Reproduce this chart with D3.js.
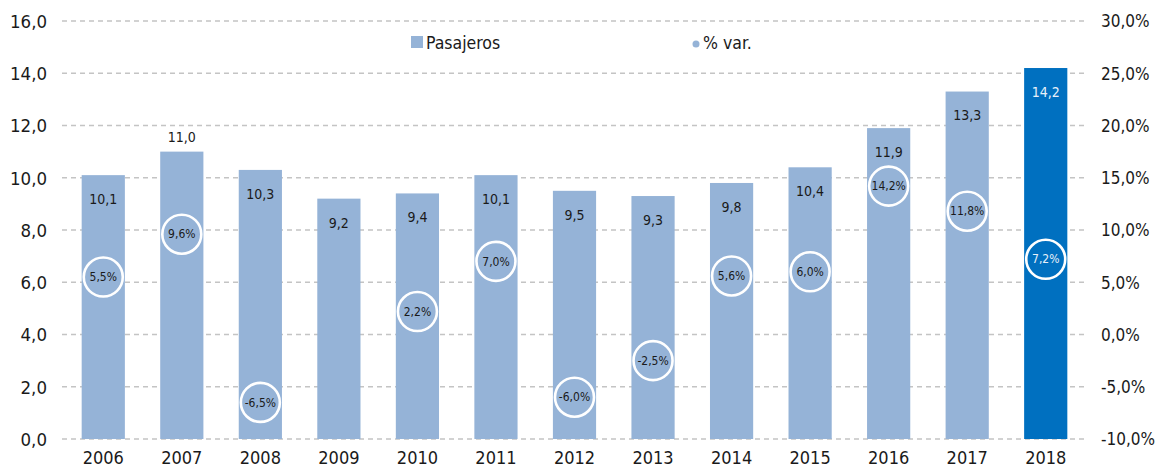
<!DOCTYPE html>
<html>
<head>
<meta charset="utf-8">
<script src="https://cdn.jsdelivr.net/npm/d3@7"></script>
<style>
  body { margin: 0; background: #fff; }
  svg text { font-family: "DejaVu Sans Condensed", "Liberation Sans Narrow", sans-serif; fill: #1a1a1a; }
</style>
</head>
<body>
<div id="chart"></div>
<script>
// Data
const years = ["2006","2007","2008","2009","2010","2011","2012","2013","2014","2015","2016","2017","2018"]
const pasajeros = [10.1, 11.0, 10.3, 9.2, 9.4, 10.1, 9.5, 9.3, 9.8, 10.4, 11.9, 13.3, 14.2]
const variacion = [5.5, 9.6, -6.5, null, 2.2, 7.0, -6.0, -2.5, 5.6, 6.0, 14.2, 11.8, 7.2]
const leftTicks = [0, 2, 4, 6, 8, 10, 12, 14, 16]
const rightTicks = [-10, -5, 0, 5, 10, 15, 20, 25, 30]

const width = 1156, height = 471
const plotLeft = 64, plotRight = 1085, plotTop = 21, plotBottom = 439

const fmt = d3.format(".1f")
const comma = v => fmt(v).replace(".", ",").replace("\u2212", "-")

const svg = d3.select("#chart").append("svg")
    .attr("width", width).attr("height", height)

// Scales
const xScale = d3.scaleBand().domain(years).range([plotLeft, plotRight]).paddingInner(0.45).paddingOuter(0.225)
const yScale = d3.scaleLinear().domain([0, 16]).range([plotBottom, plotTop])
const y2Scale = d3.scaleLinear().domain([-10, 30]).range([plotBottom, plotTop])

// Gridlines
svg.append("g").selectAll("line")
   .data(leftTicks)
   .enter()
   .append("line")
   .attr("x1", plotLeft - 2).attr("x2", plotRight)
   .attr("y1", d => yScale(d)).attr("y2", d => yScale(d))
   .attr("stroke", "#c4c4c4").attr("stroke-width", 1.3)
   .attr("stroke-dasharray", "5,4")

// Axis labels
const yAxis = d3.axisLeft(yScale).tickValues(leftTicks).tickFormat(comma).tickSize(0).tickPadding(0)
svg.append("g").attr("transform", `translate(47,0)`).call(yAxis)
   .call(g => g.select(".domain").remove())
   .selectAll("text").attr("font-size", 18.5).attr("dy", "0.35em")

const y2Axis = d3.axisRight(y2Scale).tickValues(rightTicks).tickFormat(d => comma(d) + "%").tickSize(0).tickPadding(0)
svg.append("g").attr("transform", `translate(1101,0)`).call(y2Axis)
   .call(g => g.select(".domain").remove())
   .selectAll("text").attr("font-size", 17).attr("dy", "0.35em")

const xAxis = d3.axisBottom(xScale).tickSize(0).tickPadding(0)
svg.append("g").attr("transform", `translate(0,${plotBottom + 8})`).call(xAxis)
   .call(g => g.select(".domain").remove())
   .selectAll("text").attr("font-size", 18).attr("dy", "0.95em")

// Bars
svg.append("g").selectAll("rect")
   .data(pasajeros)
   .enter()
   .append("rect")
   .attr("x", (d, i) => xScale(years[i]))
   .attr("y", d => yScale(d))
   .attr("width", xScale.bandwidth())
   .attr("height", d => plotBottom - yScale(d))
   .attr("fill", (d, i) => i === years.length - 1 ? "#0070c0" : "#95b3d7")

// Bar labels (2007 sits above its bar)
svg.append("g").selectAll("text")
   .data(pasajeros)
   .enter()
   .append("text")
   .attr("x", (d, i) => xScale(years[i]) + xScale.bandwidth() / 2)
   .attr("y", (d, i) => i === 1 ? yScale(d) - 15 : yScale(d) + 24)
   .attr("dy", "0.35em")
   .attr("text-anchor", "middle")
   .attr("font-size", 14)
   .style("fill", (d, i) => i === years.length - 1 ? "#e8f0fa" : "#1a1a1a")
   .text(d => comma(d))

// Variation circles
const pts = variacion.map((v, i) => ({ v, i })).filter(d => d.v !== null)
const circ = svg.append("g").selectAll("g")
   .data(pts)
   .enter()
   .append("g")
   .attr("transform", d => `translate(${xScale(years[d.i]) + xScale.bandwidth() / 2},${y2Scale(d.v)})`)
circ.append("circle")
   .attr("r", 19.5)
   .attr("fill", "none")
   .attr("stroke", "#fff")
   .attr("stroke-width", 2.6)
circ.append("text")
   .attr("text-anchor", "middle")
   .attr("dy", "0.35em")
   .attr("font-size", 12)
   .style("fill", d => d.i === years.length - 1 ? "#e8f0fa" : "#1a1a1a")
   .text(d => comma(d.v) + "%")

// Legend
const legend = svg.append("g")
legend.append("rect").attr("x", 411).attr("y", 36).attr("width", 12).attr("height", 12).attr("fill", "#95b3d7")
legend.append("text").attr("x", 426).attr("y", 43).attr("dy", "0.35em").attr("font-size", 17.5).text("Pasajeros")
legend.append("circle").attr("cx", 696).attr("cy", 44).attr("r", 3.5).attr("fill", "#95b3d7")
legend.append("text").attr("x", 703).attr("y", 43).attr("dy", "0.35em").attr("font-size", 17.5).text("% var.")
</script>
</body>
</html>
